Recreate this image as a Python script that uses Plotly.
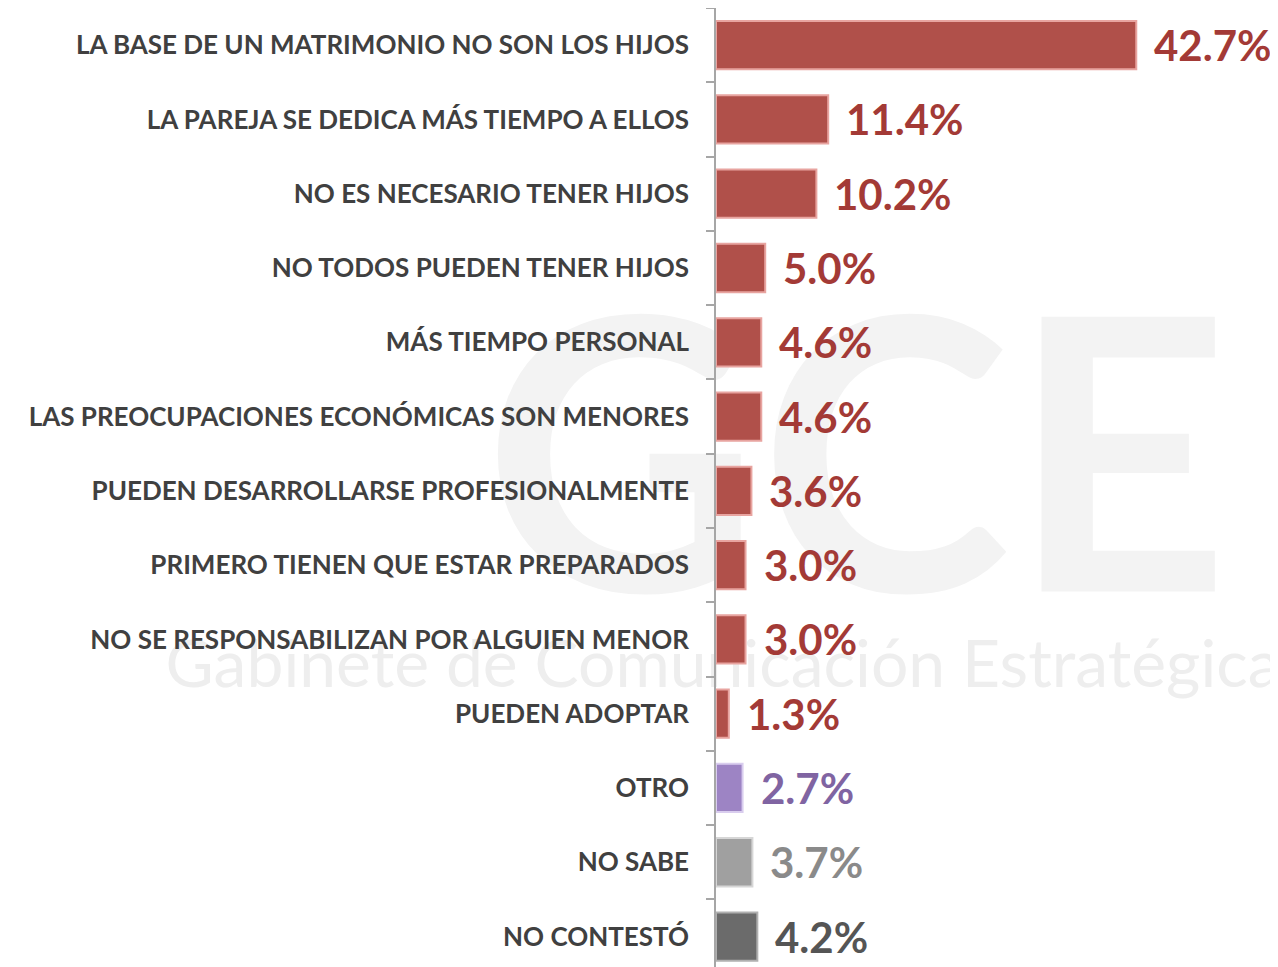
import plotly.graph_objects as go

categories = [
    "LA BASE DE UN MATRIMONIO NO SON LOS HIJOS",
    "LA PAREJA SE DEDICA MÁS TIEMPO A ELLOS",
    "NO ES NECESARIO TENER HIJOS",
    "NO TODOS PUEDEN TENER HIJOS",
    "MÁS TIEMPO PERSONAL",
    "LAS PREOCUPACIONES ECONÓMICAS SON MENORES",
    "PUEDEN DESARROLLARSE PROFESIONALMENTE",
    "PRIMERO TIENEN QUE ESTAR PREPARADOS",
    "NO SE RESPONSABILIZAN POR ALGUIEN MENOR",
    "PUEDEN ADOPTAR",
    "OTRO",
    "NO SABE",
    "NO CONTESTÓ",
]
values = [42.7, 11.4, 10.2, 5.0, 4.6, 4.6, 3.6, 3.0, 3.0, 1.3, 2.7, 3.7, 4.2]
labels = ["42.7%", "11.4%", "10.2%", "5.0%", "4.6%", "4.6%", "3.6%", "3.0%", "3.0%", "1.3%", "2.7%", "3.7%", "4.2%"]

RED, RED_T, RED_L = "#b0504a", "#a33a36", "#e8a4a0"
PUR, PUR_T, PUR_L = "#9d84c4", "#8064a2", "#d9cdee"
GRY, GRY_T, GRY_L = "#a0a0a0", "#8a8a8a", "#d6d6d6"
DGR, DGR_T, DGR_L = "#6b6b6b", "#555555", "#b0b0b0"
bar_colors = [RED] * 10 + [PUR, GRY, DGR]
text_colors = [RED_T] * 10 + [PUR_T, GRY_T, DGR_T]
edge_colors = [RED_L] * 10 + [PUR_L, GRY_L, DGR_L]

fig = go.Figure()
fig.add_trace(go.Bar(
    y=categories, x=values, orientation="h", width=0.65,
    marker=dict(color=bar_colors, line=dict(color=edge_colors, width=2)),
    hoverinfo="skip", showlegend=False,
))

for c, v, t, col in zip(categories, values, labels, text_colors):
    fig.add_annotation(x=v, y=c, text=t, showarrow=False, xanchor="left", yanchor="middle",
                       xshift=16, font=dict(family="Lato", size=42, color=col, weight="bold"))

# faint watermark drawn below the traces
fig.add_shape(type="rect", xref="paper", yref="paper", x0=-0.35, x1=0.85, y0=0.45, y1=0.65,
              line=dict(width=0), fillcolor="rgba(0,0,0,0)", layer="below",
              label=dict(text="GCE", font=dict(family="Lato", size=380, color="#f3f3f3", weight="bold"),
                         textposition="middle center"))
fig.add_shape(type="rect", xref="paper", yref="paper", x0=-0.99, x1=0.9, y0=0.29, y1=0.35,
              line=dict(width=0), fillcolor="rgba(0,0,0,0)", layer="below",
              label=dict(text="Gabinete de Comunicación Estratégica",
                         font=dict(family="Lato", size=66, color="#eeeeee"),
                         textposition="middle left"))

fig.update_layout(
    width=1270, height=959,
    margin=dict(l=708, r=0, t=0, b=0),
    paper_bgcolor="white", plot_bgcolor="rgba(0,0,0,0)",
    xaxis=dict(range=[0, 57.1], visible=False, fixedrange=True),
    yaxis=dict(
        type="category", categoryorder="array", categoryarray=categories,
        range=[12.41, -0.5], tickson="boundaries", ticks="outside", ticklen=8,
        tickcolor="#a6a6a6", tickwidth=1.5,
        showline=True, linecolor="#a6a6a6", linewidth=1.5, showgrid=False,
        ticklabelstandoff=20, automargin=False,
        tickfont=dict(family="Lato", size=26, color="#404040", weight="bold"),
    ),
)

fig.write_html("out.html")
